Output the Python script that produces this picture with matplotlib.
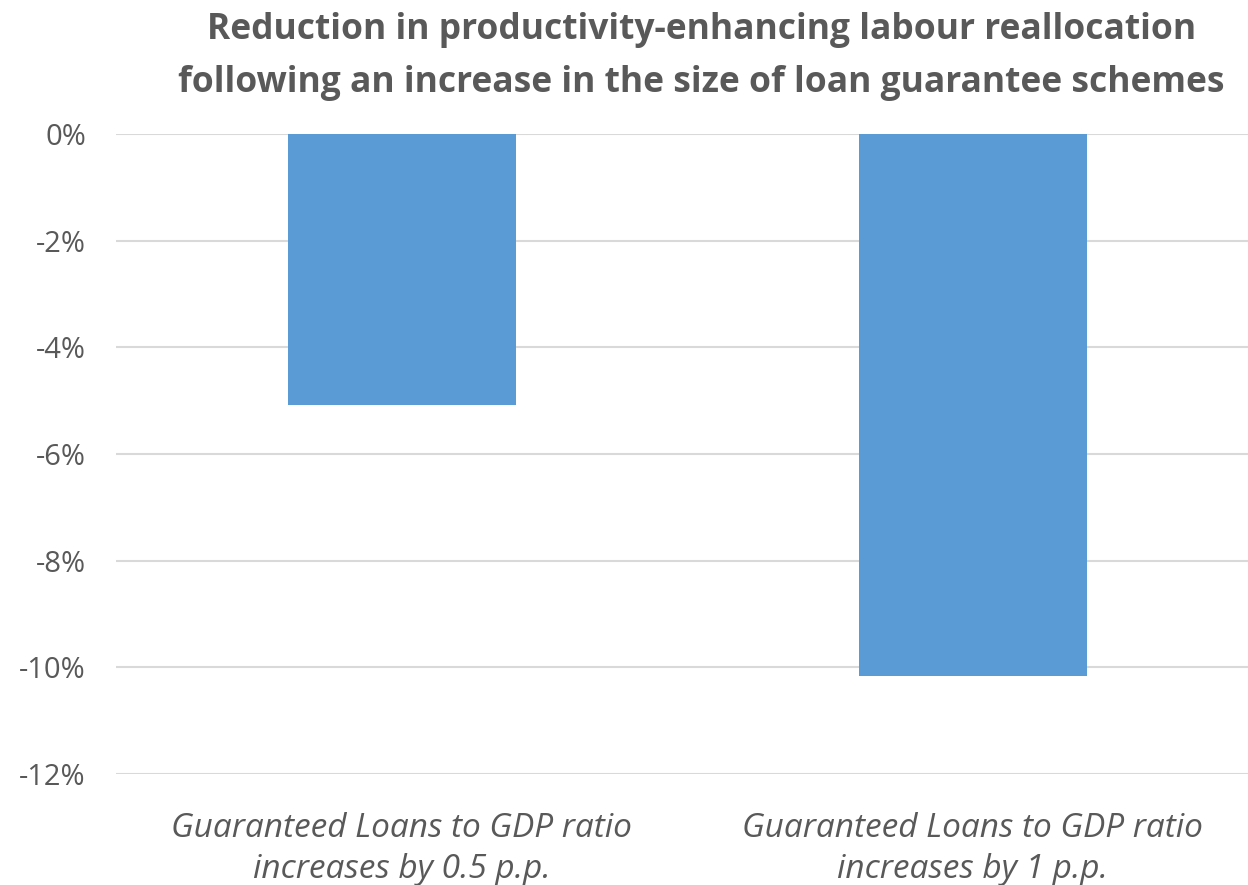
import matplotlib
matplotlib.use("Agg")
import matplotlib.pyplot as plt
from matplotlib.ticker import FuncFormatter

categories = ["Guaranteed Loans to GDP ratio\nincreases by 0.5 p.p.",
              "Guaranteed Loans to GDP ratio\nincreases by 1 p.p."]
values = [-5.08, -10.16]
yticks = [0, -2, -4, -6, -8, -10, -12]
title = ("Reduction in productivity-enhancing labour reallocation\n"
         "following an increase in the size of loan guarantee schemes")

grey = "#595959"
plt.rcParams["font.family"] = ["Open Sans", "DejaVu Sans"]

fig = plt.figure(figsize=(12.48, 8.85), dpi=100)
ax = fig.add_axes([0.0933, 0.1254, 0.915, 0.7232])

x = list(range(len(values)))
ax.bar(x, values, width=0.4, color="#5B9BD5", zorder=3)

ax.set_xlim(-0.5, 1.5)
ax.set_ylim(-12, 0)
ax.set_yticks(yticks)
ax.yaxis.set_major_formatter(FuncFormatter(lambda v, p: f"{v:.0f}%"))
ax.grid(axis="y", color="#D9D9D9", linewidth=1.5, zorder=0)
ax.set_xticks(x)
ax.set_xticklabels(categories, fontsize=24, style="italic", color=grey,
                   linespacing=1.35)
ax.tick_params(axis="y", labelsize=21, labelcolor=grey, length=0, pad=22)
ax.tick_params(axis="x", length=0, pad=27)
for s in ax.spines.values():
    s.set_visible(False)

fig.text(0.562, 0.986, title, ha="center", va="top", fontsize=25.5,
         fontweight="bold", color=grey, linespacing=1.6)

fig.savefig("out.png", dpi=100)
